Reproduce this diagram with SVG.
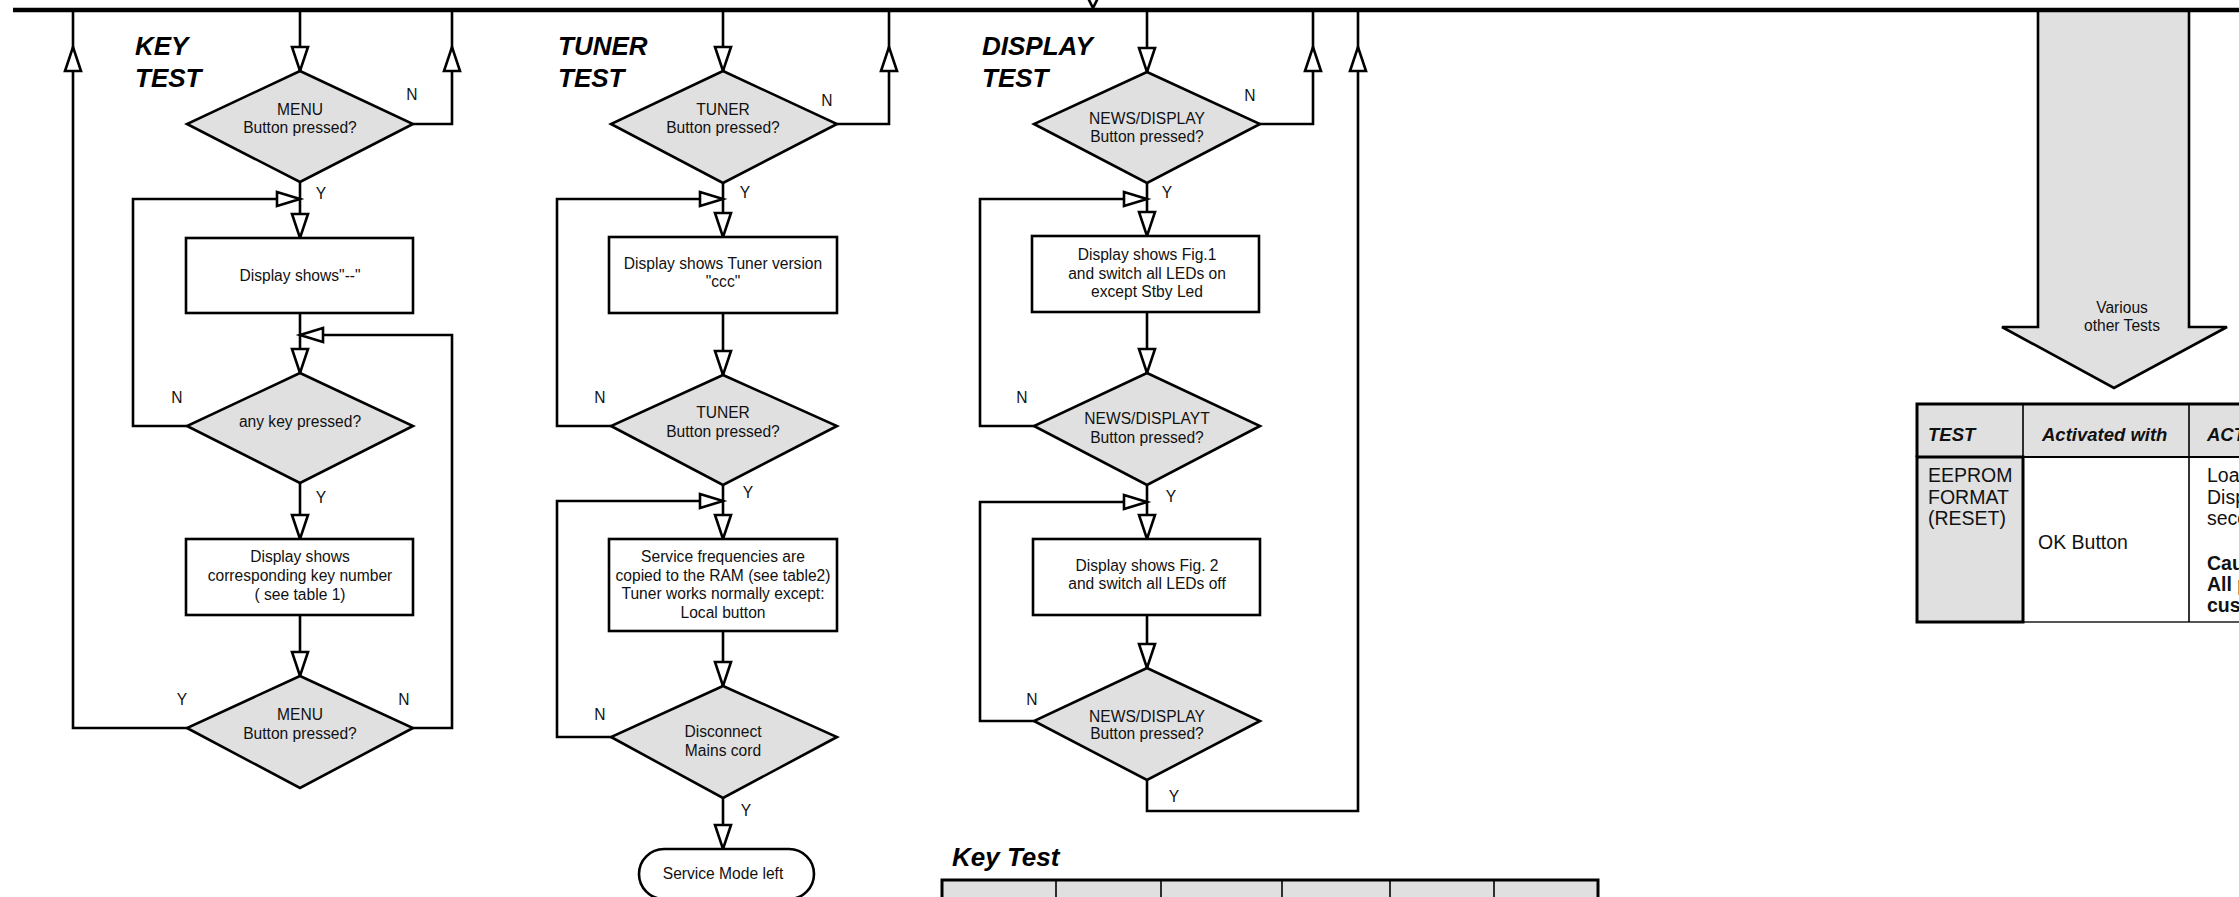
<svg xmlns="http://www.w3.org/2000/svg" xmlns:xlink="http://www.w3.org/1999/xlink" width="2239" height="897" viewBox="0 0 2239 897">
<style>
.ln{fill:none;stroke:#000;stroke-width:2.6;stroke-linejoin:miter}
.bar{fill:none;stroke:#000;stroke-width:4.6}
.ah{fill:#fff;stroke:#000;stroke-width:2.6;stroke-linejoin:miter}
.dia{fill:#e0e0e0;stroke:#000;stroke-width:2.6;stroke-linejoin:miter}
.box{fill:#fff;stroke:#000;stroke-width:2.6}
.t{font-family:"Liberation Sans",Arial,sans-serif;font-size:15.6px;fill:#111;text-anchor:middle}
.lb{font-family:"Liberation Sans",Arial,sans-serif;font-size:15.6px;fill:#111;text-anchor:middle}
.ttl{font-family:"Liberation Sans",Arial,sans-serif;font-size:26px;font-weight:bold;font-style:italic;fill:#000}
.tb{font-family:"Liberation Sans",Arial,sans-serif;font-size:19.5px;fill:#111}
.tbh{font-family:"Liberation Sans",Arial,sans-serif;font-size:18.5px;font-weight:bold;font-style:italic;fill:#111}
.tbb{font-family:"Liberation Sans",Arial,sans-serif;font-size:19.5px;font-weight:bold;fill:#111}
.thick{fill:none;stroke:#000;stroke-width:3}
</style>
<defs>
<polygon id="ad" class="ah" points="-8,-24 8,-24 0,0"/>
<polygon id="au" class="ah" points="-8,24 8,24 0,0"/>
<polygon id="ar" class="ah" points="-23,-7 -23,7 0,0"/>
<polygon id="al" class="ah" points="23,-7 23,7 0,0"/>
</defs>
<rect width="2239" height="897" fill="#fff"/>

<!-- titles -->
<g id="titles">
<text class="ttl" x="135" y="55">KEY</text>
<text class="ttl" x="135" y="87">TEST</text>
<text class="ttl" x="558" y="55">TUNER</text>
<text class="ttl" x="558" y="87">TEST</text>
<text class="ttl" x="982" y="55">DISPLAY</text>
<text class="ttl" x="982" y="87">TEST</text>
<text class="ttl" x="952" y="866">Key Test</text>
</g>

<!-- big arrow -->
<g id="various-other-tests">
<polygon class="dia" points="2038,10 2189,10 2189,327 2227,327 2114,388 2002,327 2038,327"/>
<text class="t" x="2122" y="313">Various</text>
<text class="t" x="2122" y="331">other Tests</text>
</g>

<g id="connectors">
<line class="bar" x1="13" y1="10" x2="2239" y2="10"/>
<!-- KEY -->
<polyline class="ln" points="300,10 300,71"/>
<polyline class="ln" points="413,124 452,124 452,10"/>
<polyline class="ln" points="300,182 300,238"/>
<polyline class="ln" points="187,426 133,426 133,199 300,199"/>
<polyline class="ln" points="300,313 300,373"/>
<polyline class="ln" points="300,483 300,539"/>
<polyline class="ln" points="300,615 300,676"/>
<polyline class="ln" points="187,728 73,728 73,10"/>
<polyline class="ln" points="413,728 452,728 452,335 300,335"/>
<use xlink:href="#ad" x="300" y="71"/>
<use xlink:href="#au" x="73" y="47"/>
<use xlink:href="#au" x="452" y="47"/>
<use xlink:href="#ar" x="300" y="199"/>
<use xlink:href="#ad" x="300" y="238"/>
<use xlink:href="#al" x="300" y="335"/>
<use xlink:href="#ad" x="300" y="373"/>
<use xlink:href="#ad" x="300" y="539"/>
<use xlink:href="#ad" x="300" y="676"/>
<!-- TUNER -->
<polyline class="ln" points="723,10 723,71"/>
<polyline class="ln" points="837,124 889,124 889,10"/>
<polyline class="ln" points="723,183 723,237"/>
<polyline class="ln" points="611,426 557,426 557,199 723,199"/>
<polyline class="ln" points="723,313 723,375"/>
<polyline class="ln" points="723,485 723,539"/>
<polyline class="ln" points="611,737 557,737 557,501 723,501"/>
<polyline class="ln" points="723,631 723,686"/>
<polyline class="ln" points="723,798 723,849"/>
<use xlink:href="#ad" x="723" y="71"/>
<use xlink:href="#au" x="889" y="47"/>
<use xlink:href="#ar" x="723" y="199"/>
<use xlink:href="#ad" x="723" y="237"/>
<use xlink:href="#ad" x="723" y="375"/>
<use xlink:href="#ar" x="723" y="501"/>
<use xlink:href="#ad" x="723" y="539"/>
<use xlink:href="#ad" x="723" y="686"/>
<use xlink:href="#ad" x="723" y="849"/>
<!-- DISPLAY -->
<polyline class="ln" points="1147,10 1147,72"/>
<polyline class="ln" points="1260,124 1313,124 1313,10"/>
<polyline class="ln" points="1147,183 1147,236"/>
<polyline class="ln" points="1034,426 980,426 980,199 1147,199"/>
<polyline class="ln" points="1147,312 1147,373"/>
<polyline class="ln" points="1147,485 1147,539"/>
<polyline class="ln" points="1034,721 980,721 980,502 1147,502"/>
<polyline class="ln" points="1147,615 1147,668"/>
<polyline class="ln" points="1147,780 1147,811 1358,811 1358,10"/>
<use xlink:href="#ad" x="1147" y="72"/>
<use xlink:href="#au" x="1313" y="47"/>
<use xlink:href="#au" x="1358" y="47"/>
<use xlink:href="#ar" x="1147" y="199"/>
<use xlink:href="#ad" x="1147" y="236"/>
<use xlink:href="#ad" x="1147" y="373"/>
<use xlink:href="#ar" x="1147" y="502"/>
<use xlink:href="#ad" x="1147" y="539"/>
<use xlink:href="#ad" x="1147" y="668"/>
<!-- partial arrow at top -->
<polygon class="ah" points="1083,-12 1103,-12 1093,8"/>
<!-- labels -->
<text class="lb" x="412" y="100">N</text>
<text class="lb" x="321" y="199">Y</text>
<text class="lb" x="177" y="403">N</text>
<text class="lb" x="321" y="503">Y</text>
<text class="lb" x="182" y="705">Y</text>
<text class="lb" x="404" y="705">N</text>
<text class="lb" x="827" y="106">N</text>
<text class="lb" x="745" y="198">Y</text>
<text class="lb" x="600" y="403">N</text>
<text class="lb" x="748" y="498">Y</text>
<text class="lb" x="600" y="720">N</text>
<text class="lb" x="746" y="816">Y</text>
<text class="lb" x="1250" y="101">N</text>
<text class="lb" x="1167" y="198">Y</text>
<text class="lb" x="1022" y="403">N</text>
<text class="lb" x="1171" y="502">Y</text>
<text class="lb" x="1032" y="705">N</text>
<text class="lb" x="1174" y="802">Y</text>
</g>

<!-- KEY TEST nodes -->
<g id="k-d1"><polygon class="dia" points="300,71 413,124 300,182 187,124"/><text class="t" x="300" y="115">MENU</text><text class="t" x="300" y="133">Button pressed?</text></g>
<g id="k-b1"><rect class="box" x="186" y="238" width="227" height="75"/><text class="t" x="300" y="281">Display shows"--"</text></g>
<g id="k-d2"><polygon class="dia" points="300,373 413,426 300,483 187,426"/><text class="t" x="300" y="427">any key pressed?</text></g>
<g id="k-b2"><rect class="box" x="186" y="539" width="227" height="76"/><text class="t" x="300" y="562">Display shows</text><text class="t" x="300" y="581">corresponding key number</text><text class="t" x="300" y="600">( see table 1)</text></g>
<g id="k-d3"><polygon class="dia" points="300,676 413,728 300,788 187,728"/><text class="t" x="300" y="720">MENU</text><text class="t" x="300" y="739">Button pressed?</text></g>

<!-- TUNER TEST nodes -->
<g id="t-d1"><polygon class="dia" points="723,71 837,124 723,183 611,124"/><text class="t" x="723" y="115">TUNER</text><text class="t" x="723" y="133">Button pressed?</text></g>
<g id="t-b1"><rect class="box" x="609" y="237" width="228" height="76"/><text class="t" x="723" y="269">Display shows Tuner version</text><text class="t" x="723" y="287">"ccc"</text></g>
<g id="t-d2"><polygon class="dia" points="723,375 837,426 723,485 611,426"/><text class="t" x="723" y="418">TUNER</text><text class="t" x="723" y="437">Button pressed?</text></g>
<g id="t-b2"><rect class="box" x="609" y="539" width="228" height="92"/><text class="t" x="723" y="562">Service frequencies are</text><text class="t" x="723" y="581">copied to the RAM (see table2)</text><text class="t" x="723" y="599">Tuner works normally except:</text><text class="t" x="723" y="618">Local button</text></g>
<g id="t-d3"><polygon class="dia" points="723,686 837,737 723,798 611,737"/><text class="t" x="723" y="737">Disconnect</text><text class="t" x="723" y="756">Mains cord</text></g>
<g id="t-end"><rect class="box" x="639" y="849" width="175" height="50" rx="25" ry="25"/><text class="t" x="723" y="879">Service Mode left</text></g>

<!-- DISPLAY TEST nodes -->
<g id="d-d1"><polygon class="dia" points="1147,72 1260,124 1147,183 1034,124"/><text class="t" x="1147" y="124">NEWS/DISPLAY</text><text class="t" x="1147" y="142">Button pressed?</text></g>
<g id="d-b1"><rect class="box" x="1032" y="236" width="227" height="76"/><text class="t" x="1147" y="260">Display shows Fig.1</text><text class="t" x="1147" y="279">and switch all LEDs on</text><text class="t" x="1147" y="297">except Stby Led</text></g>
<g id="d-d2"><polygon class="dia" points="1147,373 1260,426 1147,485 1034,426"/><text class="t" x="1147" y="424">NEWS/DISPLAYT</text><text class="t" x="1147" y="443">Button pressed?</text></g>
<g id="d-b2"><rect class="box" x="1033" y="539" width="227" height="76"/><text class="t" x="1147" y="571">Display shows Fig. 2</text><text class="t" x="1147" y="589">and switch all LEDs off</text></g>
<g id="d-d3"><polygon class="dia" points="1147,668 1260,721 1147,780 1034,721"/><text class="t" x="1147" y="722">NEWS/DISPLAY</text><text class="t" x="1147" y="739">Button pressed?</text></g>

<!-- Key Test table -->
<g id="key-test-table">
<rect x="942" y="880" width="656" height="30" fill="#e0e0e0"/>
<line class="ln" x1="1056" y1="880" x2="1056" y2="897" style="stroke-width:1.6"/>
<line class="ln" x1="1161" y1="880" x2="1161" y2="897" style="stroke-width:1.6"/>
<line class="ln" x1="1282" y1="880" x2="1282" y2="897" style="stroke-width:1.6"/>
<line class="ln" x1="1390" y1="880" x2="1390" y2="897" style="stroke-width:1.6"/>
<line class="ln" x1="1494" y1="880" x2="1494" y2="897" style="stroke-width:1.6"/>
<polyline class="thick" points="942,899 942,880 1598,880 1598,899"/>
</g>

<!-- EEPROM table -->
<g id="eeprom-table">
<rect x="1917" y="404" width="330" height="53" fill="#e0e0e0"/>
<rect x="2023" y="457" width="224" height="165" fill="#fff"/>
<line x1="1917" y1="622" x2="2239" y2="622" stroke="#555" stroke-width="2"/>
<line x1="2023" y1="404" x2="2023" y2="622" stroke="#000" stroke-width="1.6"/>
<line x1="2189" y1="404" x2="2189" y2="622" stroke="#000" stroke-width="1.6"/>
<line x1="1917" y1="457" x2="2239" y2="457" stroke="#000" stroke-width="2"/>
<rect x="1917" y="457" width="106" height="165" fill="#e0e0e0" stroke="#000" stroke-width="3"/>
<polyline class="thick" points="1917,457 1917,404 2241,404"/>
<text class="tbh" x="1928" y="441">TEST</text>
<text class="tbh" x="2042" y="441">Activated with</text>
<text class="tbh" x="2207" y="441">ACT</text>
<text class="tb" x="1928" y="482">EEPROM</text>
<text class="tb" x="1928" y="504">FORMAT</text>
<text class="tb" x="1928" y="525">(RESET)</text>
<text class="tb" x="2038" y="549">OK Button</text>
<text class="tb" x="2207" y="482">Load</text>
<text class="tb" x="2207" y="504">Disp</text>
<text class="tb" x="2207" y="525">seco</text>
<text class="tbb" x="2207" y="570">Cau</text>
<text class="tbb" x="2207" y="591">All p</text>
<text class="tbb" x="2207" y="612">cust</text>
</g>
</svg>
